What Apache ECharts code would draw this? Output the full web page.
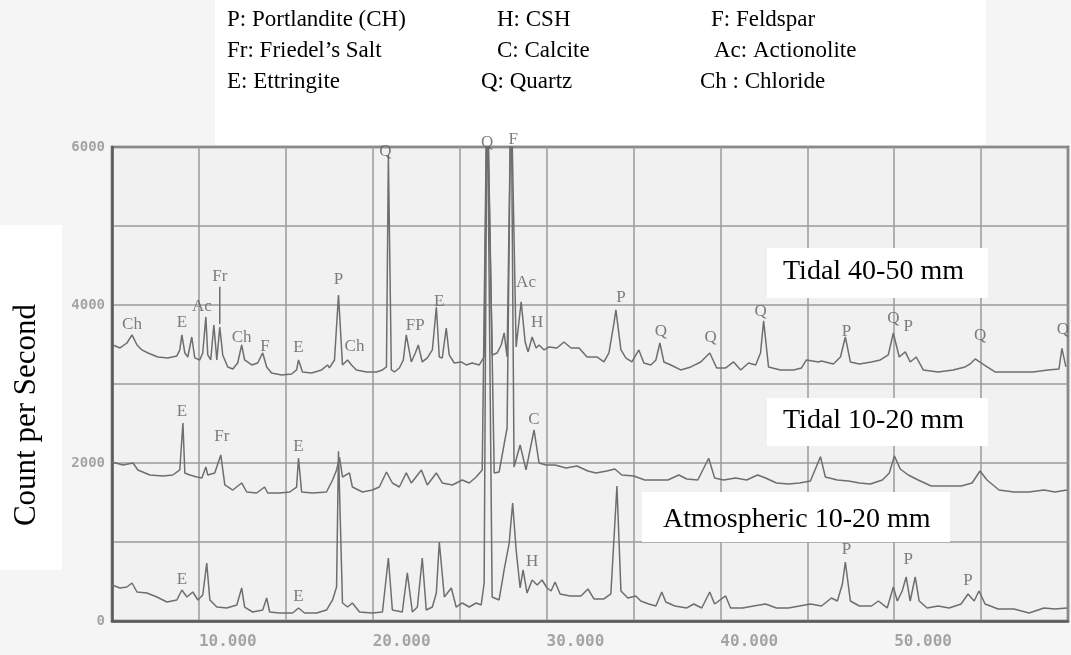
<!DOCTYPE html>
<html><head><meta charset="utf-8">
<script src="https://cdn.jsdelivr.net/npm/echarts@6/dist/echarts.min.js"></script>
<style>html,body{margin:0;padding:0;background:#f5f5f5}#c{width:1071px;height:655px}</style>
</head><body><div id="c"></div>
<script>
// ---- data: 2-theta (deg) and counts per second ----
const tidal4050Theta = [5.06,5.46,5.86,6.15,6.44,6.72,7.07,7.64,8.21,8.73,
8.90,9.02,9.19,9.36,9.59,9.76,10.05,10.22,10.40,10.51,
10.68,10.86,11.03,11.20,11.37,11.66,11.95,12.23,12.46,12.63,
13.04,13.38,13.67,13.90,14.18,14.76,15.33,15.62,15.73,15.96,
16.48,17.06,17.40,17.51,17.80,18.03,18.26,18.55,18.78,19.06,
19.64,20.21,20.56,20.79,20.90,21.07,21.25,21.53,21.76,21.93,
22.22,22.45,22.62,22.85,23.14,23.43,23.66,23.83,24.00,24.23,
24.40,24.69,25.09,25.38,25.72,26.13,26.41,26.58,26.87,27.16,
27.39,27.56,27.73,27.96,28.25,28.54,28.77,28.94,29.17,29.40,
29.57,29.86,30.14,30.60,31.00,31.41,31.87,32.33,32.90,33.30,
33.59,33.88,33.99,34.28,34.56,34.91,35.31,35.60,36.00,36.29,
36.52,36.75,37.15,37.72,38.30,38.87,39.39,39.79,40.31,40.76,
41.17,41.62,42.03,42.31,42.49,42.77,43.46,44.21,44.67,44.95,
45.64,45.82,46.50,46.91,47.19,47.48,48.00,48.69,49.20,49.66,
49.95,50.29,50.64,50.92,51.27,51.67,52.53,53.39,54.08,54.37,
54.66,55.17,55.80,56.89,57.98,58.85,59.48,59.65,59.88];
const tidal4050Count = [3494,3456,3519,3621,3494,3431,3393,3342,3330,3355,
3431,3621,3393,3342,3595,3330,3304,3393,3849,3368,
3304,3747,3304,3722,3368,3216,3190,3266,3494,3304,
3241,3266,3393,3216,3140,3114,3127,3178,3304,3152,
3140,3178,3241,3203,3304,4127,3241,3304,3241,3178,
3152,3152,3178,3216,5900,3178,3152,3203,3304,3621,
3279,3393,3494,3279,3330,3431,3975,3342,3330,3709,
3368,3266,3279,3241,3266,3241,3342,6800,3368,3393,
3494,3646,3342,6800,3469,4039,3532,3406,3595,3456,
3494,3431,3469,3456,3532,3456,3456,3342,3342,3279,
3393,3773,3940,3431,3330,3279,3431,3266,3241,3304,
3519,3279,3241,3178,3216,3279,3393,3203,3203,3279,
3178,3266,3241,3393,3800,3216,3178,3178,3203,3304,
3279,3292,3254,3342,3595,3279,3254,3279,3304,3368,
3646,3342,3406,3279,3342,3178,3152,3178,3216,3254,
3317,3241,3152,3152,3152,3178,3190,3450,3216];

const tidal1020Theta = [5.00,5.63,6.21,6.49,7.18,7.93,8.50,8.90,9.08,9.19,
9.48,9.88,10.17,10.40,10.51,10.91,11.26,11.49,11.95,12.46,
12.75,13.32,13.78,13.96,14.64,15.22,15.62,15.73,15.91,16.54,
17.34,17.69,17.92,18.09,18.26,18.66,18.83,19.41,19.98,20.38,
20.79,21.13,21.53,21.93,22.22,22.80,23.14,23.66,24.00,24.58,
25.15,25.55,25.95,26.30,26.58,26.99,27.27,27.73,27.96,28.13,
28.48,28.82,29.28,29.57,29.97,30.49,31.12,31.75,32.38,32.84,
33.47,33.93,34.33,35.02,35.65,36.29,36.98,37.61,38.07,38.70,
39.33,39.67,40.19,40.88,41.51,42.14,42.60,43.23,43.92,44.55,
45.18,45.76,46.04,46.73,47.37,48.00,48.63,49.32,49.72,50.01,
50.35,50.81,51.38,52.13,52.99,53.85,54.48,54.94,55.34,56.03,
56.89,57.76,58.62,59.25,59.94];
const tidal1020Count = [2013,1975,2000,1912,1848,1836,1848,1912,2507,1874,
1848,1823,1810,1950,1848,1874,2102,1722,1658,1747,
1633,1620,1696,1620,1620,1633,1696,2064,1633,1620,
1633,1785,1912,2070,1823,1874,1696,1633,1658,1696,
1886,1747,1696,1874,1747,1912,1722,1874,1747,1722,
1785,1747,1823,1912,7000,1874,1886,2443,7000,1950,
2228,1912,2418,2000,1975,1975,1937,1962,1899,1874,
1899,1924,1848,1836,1785,1785,1785,1848,1798,1785,
2060,1810,1785,1810,1785,1848,1810,1747,1734,1747,
1772,2080,1823,1785,1772,1747,1734,1785,1874,2090,
1924,1848,1785,1709,1709,1709,1747,1899,1785,1658,
1633,1633,1658,1633,1658];

const atm1020Theta = [5.00,5.46,5.86,6.15,6.44,7.01,7.58,8.16,8.73,9.02,
9.31,9.65,9.94,10.22,10.45,10.63,11.03,11.60,12.18,12.46,
12.63,13.09,13.67,13.90,14.07,14.64,15.39,15.73,16.08,16.77,
17.34,17.69,17.92,18.03,18.26,18.55,18.83,19.24,19.98,20.56,
20.90,21.13,21.70,21.99,22.28,22.57,22.85,23.08,23.43,23.66,
23.83,24.12,24.52,24.80,25.15,25.55,25.95,26.24,26.41,26.58,
26.87,27.27,27.56,27.85,28.05,28.25,28.48,28.65,28.88,29.17,
29.46,29.74,30.03,30.26,30.49,30.78,31.35,31.98,32.38,32.73,
33.30,33.70,34.05,34.28,34.68,35.14,35.42,35.88,36.29,36.63,
36.86,37.38,38.07,38.47,38.93,39.39,39.67,40.30,40.59,41.28,
41.91,42.60,43.23,43.92,44.55,45.18,45.82,46.39,46.73,47.02,
47.19,47.48,48.00,48.69,49.09,49.60,49.95,50.18,50.46,50.69,
50.92,51.21,51.44,51.90,52.53,53.16,53.85,54.25,54.60,54.88,
55.23,55.98,56.89,57.76,58.62,59.25,59.94];
const atm1020Count = [456,418,430,481,367,354,304,241,266,392,
304,367,266,329,734,266,177,165,203,418,
177,114,139,291,114,101,101,165,101,101,
139,266,430,2150,228,177,228,114,101,114,
798,139,114,608,114,177,798,139,177,354,
1000,304,418,177,228,177,228,203,481,7000,
304,266,646,987,1494,899,418,646,354,519,
456,519,418,380,494,342,317,317,405,279,
279,342,1709,380,291,317,253,215,190,367,
241,190,165,215,165,367,215,317,165,165,
190,215,165,165,190,215,190,291,253,468,
747,253,190,190,253,165,430,253,380,557,
253,557,253,165,190,165,215,342,253,380,
215,152,152,101,165,152,165];

// phase identification labels (peak 2-theta, label level in counts, text)
const peakLabelTheta = [6.15,9.02,10.17,11.2,12.46,13.8,15.73,18.03,18.95,22.45,23.83,28.82,29.46,34.28,36.58,39.44,42.31,47.25,49.95,50.81,54.94,59.7,20.73,26.58,28.08,
  9.02,11.32,15.73,29.28,
  9.02,15.73,29.17,47.25,50.81,54.25];
const peakLabelCount = [3747,3773,3975,4355,3583,3480,3456,4317,3469,3740,4039,4279,3773,4089,3659,3583,3912,3659,3823,3722,3608,3684,5938,6051,6089,
  2646,2329,2203,2545,
  519,304,747,899,772,506];
const peakLabelText = ['Ch','E','Ac','Fr','Ch','F','E','P','Ch','FP','E','Ac','H','P','Q','Q','Q','P','Q','P','Q','Q','Q','Q','F',
  'E','Fr','E','C',
  'E','E','H','P','P','P'];
const frLeaderTheta = [11.2, 11.2];
const frLeaderCount = [3760, 4230];

// axis ticks
const xTickValues = [10, 20, 30, 40, 50];
const xTickLabels = ['10.000', '20.000', '30.000', '40.000', '50.000'];
const yTickValues = [0, 2000, 4000, 6000];
const yTickLabels = ['0', '2000', '4000', '6000'];

const legendRows = [
  ['P: Portlandite (CH)', 'H: CSH', 'F: Feldspar'],
  ['Fr: Friedel\u2019s Salt', 'C: Calcite', 'Ac: Actionolite'],
  ['E: Ettringite', 'Q: Quartz', 'Ch : Chloride']
];
const seriesNames = ['Tidal 40-50 mm', 'Tidal 10-20 mm', 'Atmospheric 10-20 mm'];
const yAxisTitle = 'Count per Second';

// ---- build ----
const zip = (a, b) => a.map((v, i) => [v, b[i]]);
const traceStyle = { color: '#6e6e6e', width: 1.5 };
const lineSeries = (name, t, c) => ({
  name, type: 'line', data: zip(t, c), showSymbol: false, symbol: 'none',
  lineStyle: traceStyle, clip: true, z: 3, animation: false
});

const serif = '"Liberation Serif","Times New Roman",serif';
const legendColX = [[227, 497, 711], [227, 497, 714], [227, 481, 700]];
const legendRowY = [20, 51, 82];
const graphic = [
  { type: 'rect', z: 50, shape: { x: 215, y: 0, width: 771, height: 145 }, style: { fill: '#ffffff' } },
  { type: 'rect', z: 50, shape: { x: 0, y: 225, width: 62, height: 345 }, style: { fill: '#ffffff' } },
  { type: 'text', z: 51, x: 27, y: 415, rotation: Math.PI / 2,
    style: { text: yAxisTitle, font: '31px ' + serif, fill: '#000', textAlign: 'center', textVerticalAlign: 'middle' } },
  { type: 'rect', z: 50, shape: { x: 767, y: 248, width: 221, height: 50 }, style: { fill: '#ffffff' } },
  { type: 'text', z: 51, x: 783, y: 272, style: { text: seriesNames[0], font: '28px ' + serif, fill: '#000', textVerticalAlign: 'middle' } },
  { type: 'rect', z: 50, shape: { x: 767, y: 398, width: 221, height: 48 }, style: { fill: '#ffffff' } },
  { type: 'text', z: 51, x: 783, y: 421, style: { text: seriesNames[1], font: '28px ' + serif, fill: '#000', textVerticalAlign: 'middle' } },
  { type: 'rect', z: 50, shape: { x: 642, y: 492, width: 308, height: 50 }, style: { fill: '#ffffff' } },
  { type: 'text', z: 51, x: 663, y: 520, style: { text: seriesNames[2], font: '28px ' + serif, fill: '#000', textVerticalAlign: 'middle' } }
];
legendRows.forEach((row, r) => row.forEach((txt, c) => {
  graphic.push({ type: 'text', z: 51, x: legendColX[r][c], y: legendRowY[r],
    style: { text: txt, font: '23px ' + serif, fill: '#000', textVerticalAlign: 'middle' } });
}));

const chart = echarts.init(document.getElementById('c'), null, { renderer: 'canvas' });
chart.setOption({
  animation: false,
  backgroundColor: '#f5f5f5',
  grid: { left: 112, top: 147, right: 2, bottom: 34, show: true, backgroundColor: '#f1f1f1', borderColor: '#5a5a5a', borderWidth: 2.5 },
  xAxis: {
    type: 'value', min: 5, max: 60, interval: 5,
    axisLine: { show: true, lineStyle: { color: '#5a5a5a', width: 2.5 } },
    axisTick: { show: false },
    splitLine: { show: true, lineStyle: { color: '#9a9a9a', width: 1.5 } },
    axisLabel: {
      align: 'left', margin: 13, color: '#a4a4a4', fontSize: 16,
      fontFamily: '"DejaVu Sans Mono", monospace', fontWeight: 'bold',
      formatter: v => { const i = xTickValues.indexOf(v); return i >= 0 ? xTickLabels[i] : ''; }
    }
  },
  yAxis: {
    type: 'value', min: 0, max: 6000, interval: 1000,
    axisLine: { show: true, lineStyle: { color: '#5a5a5a', width: 2.5 } },
    axisTick: { show: false },
    splitLine: { show: true, lineStyle: { color: '#9a9a9a', width: 1.5 } },
    axisLabel: {
      margin: 7, color: '#a4a4a4', fontSize: 14,
      fontFamily: '"DejaVu Sans Mono", monospace', fontWeight: 'bold',
      formatter: v => { const i = yTickValues.indexOf(v); return i >= 0 ? yTickLabels[i] : ''; }
    }
  },
  graphic,
  series: [
    lineSeries(seriesNames[0], tidal4050Theta, tidal4050Count),
    lineSeries(seriesNames[1], tidal1020Theta, tidal1020Count),
    lineSeries(seriesNames[2], atm1020Theta, atm1020Count),
    { type: 'line', data: zip(frLeaderTheta, frLeaderCount), showSymbol: false, symbol: 'none',
      lineStyle: { color: '#6e6e6e', width: 1.5 }, z: 4 },
    { type: 'scatter', clip: false, z: 52, symbolSize: 0,
      data: peakLabelTheta.map((t, i) => [t, peakLabelCount[i], peakLabelText[i]]),
      label: { show: true, position: 'inside', formatter: p => p.data[2],
        fontFamily: serif, fontSize: 17, color: '#5e5e5e' } }
  ]
});
</script></body></html>
